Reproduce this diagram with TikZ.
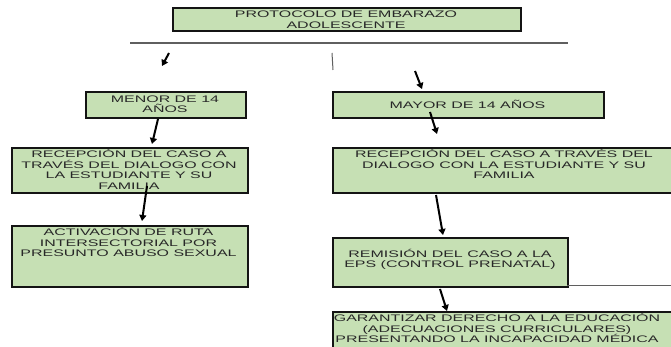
\documentclass[tikz,border=0pt]{standalone}
\usepackage{fontspec}
\setmainfont{Liberation Sans}[FakeStretch=1.68]
\usetikzlibrary{arrows.meta}
\definecolor{boxfill}{RGB}{198,224,180}
\definecolor{boxline}{RGB}{20,20,20}
\definecolor{txtcol}{RGB}{40,40,40}
\definecolor{rulegray}{RGB}{95,95,95}
\newcommand{\tstrut}{\rule{0pt}{9pt}}
\begin{document}
\begin{tikzpicture}[x=1pt,y=-1pt,
  box/.style={draw=boxline, fill=boxfill, line width=1.8pt, inner sep=0pt, anchor=north west},
  txt/.style={text=txtcol, font=\fontsize{9.5}{10.5}\selectfont, align=center, inner sep=0pt, anchor=north},
  arr/.style={line width=2pt, draw=black, -{Triangle[length=6pt,width=7pt]}},
  thinline/.style={draw=rulegray, line width=1pt},
]
\useasboundingbox (0,0) rectangle (671,347);
\clip (0,0) rectangle (671,347);
\fill[white] (0,0) rectangle (671,347);

% boxes
\node[box, minimum width=348pt, minimum height=23pt] (title) at (172,7) {};
\node[box, minimum width=160pt, minimum height=26pt] (menor) at (85,91) {};
\node[box, minimum width=271pt, minimum height=26pt] (mayor) at (332,91) {};
\node[box, minimum width=236pt, minimum height=45pt] (recl) at (11,147) {};
\node[box, minimum width=236pt, minimum height=61pt] (act) at (11,225) {};
\node[box, minimum width=344pt, minimum height=45pt] (recr) at (332,147) {};
\node[box, minimum width=235pt, minimum height=49pt] (rem) at (332,237) {};
\node[box, minimum width=344pt, minimum height=50pt] (gar) at (332,311) {};

% texts
\node[txt] (titleT) at (346,8.5) {\tstrut PROTOCOLO DE EMBARAZO\\ADOLESCENTE};
\node[txt] (menorT) at (165,93) {\tstrut MENOR DE 14\\AÑOS};
\node[txt] (mayorT) at (467.5,99.5) {\tstrut MAYOR DE 14 AÑOS};
\node[txt] (reclT) at (129,148.5) {\tstrut RECEPCIÓN DEL CASO A\\TRAVÉS DEL DIALOGO CON\\LA ESTUDIANTE Y SU\\FAMILIA};
\node[txt] (actT) at (128.5,226.5) {\tstrut ACTIVACIÓN DE RUTA\\INTERSECTORIAL POR\\PRESUNTO ABUSO SEXUAL};
\node[txt] (recrT) at (504,148.5) {\tstrut RECEPCIÓN DEL CASO A TRAVÉS DEL\\DIALOGO CON LA ESTUDIANTE Y SU\\FAMILIA};
\node[txt] (remT) at (450,248) {\tstrut REMISIÓN DEL CASO A LA\\EPS (CONTROL PRENATAL)};
\node[txt] (garT) at (497,312.5) {\tstrut GARANTIZAR DERECHO A LA EDUCACIÓN\\(ADECUACIONES CURRICULARES)\\PRESENTANDO LA INCAPACIDAD MÉDICA};

% rules
\coordinate (ruleL) at (130,43);
\coordinate (ruleR) at (568,43);
\draw[draw=rulegray, line width=1.8pt] (ruleL) -- (ruleR);
\coordinate (tickT) at (332,53);
\coordinate (tickB) at (333,70);
\draw[thinline] (tickT) -- (tickB);
\coordinate (remR) at (567,285.5);
\coordinate (edgeR) at (671,285.5);
\draw[thinline] (remR) -- (edgeR);

% arrows
\coordinate (a1s) at (169,53);  \coordinate (a1e) at (162,66);
\coordinate (a2s) at (415,71);  \coordinate (a2e) at (422,89);
\coordinate (a3s) at (158,119); \coordinate (a3e) at (152,144);
\coordinate (a4s) at (430,112); \coordinate (a4e) at (437,134);
\coordinate (a5s) at (147,186); \coordinate (a5e) at (142,221);
\coordinate (a6s) at (436,195); \coordinate (a6e) at (443,235);
\coordinate (a7s) at (440,289); \coordinate (a7e) at (447,311);
\draw[arr] (a1s) -- (a1e);
\draw[arr] (a2s) -- (a2e);
\draw[arr] (a3s) -- (a3e);
\draw[arr] (a4s) -- (a4e);
\draw[arr] (a5s) -- (a5e);
\draw[arr] (a6s) -- (a6e);
\draw[arr] (a7s) -- (a7e);
\end{tikzpicture}
\end{document}
